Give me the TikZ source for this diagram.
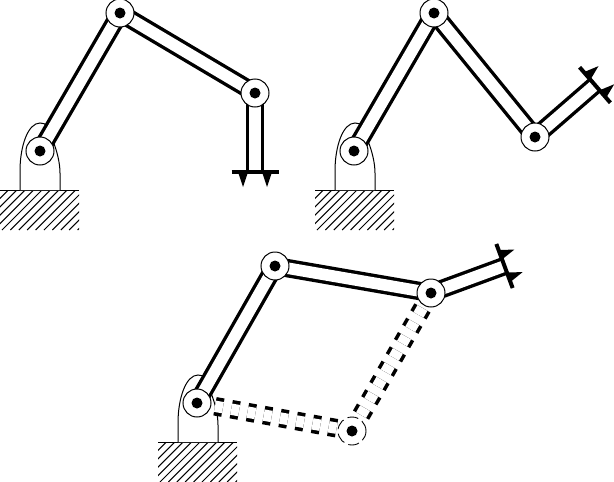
\documentclass[tikz,border=0pt]{standalone}
\usetikzlibrary{backgrounds}
\pgfdeclarelayer{lowest}
\pgfsetlayers{lowest,background,main}
\tikzset{
  x=1pt,y=1pt,
  joint/.style={circle,draw=black,fill=white,line width=1pt,minimum size=28pt,inner sep=0pt},
  ghostjoint/.style={joint,line width=0.9pt,dash pattern=on 11pt off 4.5pt},
  pindot/.style={circle,fill=black,minimum size=11pt,inner sep=0pt},
  endpt/.style={inner sep=0pt,minimum size=0pt},
  link/.style={draw=black,line width=3.4pt,double=white,double distance=11.6pt},
  ghostlink/.style={link,line width=3.6pt,double distance=11.4pt,dash pattern=on 8pt off 8.5pt,dash phase=14.7pt},
  baseline/.style={line width=1pt,draw=black},
  gripper/.pic={
    \draw[line width=4pt] (-23.5,0) -- (23.5,0);
    \fill (-17,0) -- (-7,0) -- (-12,-15) -- cycle;
    \fill (7,0) -- (17,0) -- (12,-15) -- cycle;
  },
  ground/.pic={
    \begin{scope}
      \clip (0,0) rectangle (79,-40);
      \foreach \k in {0,...,15}{
        \draw[line width=1pt] ({-40+\k*8.4},-40) -- ++(40,40);
      }
    \end{scope}
    \draw[line width=1pt] (0,0) -- (79,0);
  },
  mount/.pic={
    \draw[baseline,fill=white] (-20,-39) -- (-20,-20) .. controls (-20,5) and (-12,28) .. (0,28)
       .. controls (6,28) and (10,25) .. (13,10) .. controls (17,0) and (20,-12) .. (20,-22) -- (20,-39);
  }
}
\begin{document}
\begin{tikzpicture}
\useasboundingbox (0,0) rectangle (614,-482);
% upper left arm
\node[joint] (a1) at (40,-151) {};
\node[joint] (a2) at (120,-13) {};
\node[joint] (a3) at (255,-93) {};
\node[endpt] (a4) at (255,-172) {};
% upper right arm
\node[joint] (b1) at (354,-151) {};
\node[joint] (b2) at (434,-13) {};
\node[joint] (b3) at (535,-137) {};
\node[endpt] (b4) at (595,-85) {};
% lower arm
\node[joint] (c1) at (197,-403) {};
\node[joint] (c2) at (275,-266) {};
\node[joint] (c3) at (431,-293) {};
\node[endpt] (c4) at (504.5,-266) {};
\node[ghostjoint] (c5) at (352,-431) {};
\foreach \j in {a1,a2,a3,b1,b2,b3,c1,c2,c3,c5}{
  \node[pindot] (dot\j) at (\j.center) {};
}
\begin{pgfonlayer}{lowest}
  \pic at (0,-190) {ground};
  \pic at (315,-190) {ground};
  \pic at (158,-442) {ground};
  \pic at (40,-151) {mount};
  \pic at (355,-151) {mount};
  \pic at (198,-403) {mount};
\end{pgfonlayer}
\begin{pgfonlayer}{background}
  \draw[ghostlink] (c1.center) -- (c5.center);
  \draw[ghostlink] (c5.center) -- (c3.center);
  \draw[link] (a1.center) -- (a2.center);
  \draw[link] (a2.center) -- (a3.center);
  \draw[link] (a3.center) -- (a4.center);
  \draw[link] (b1.center) -- (b2.center);
  \draw[link] (b2.center) -- (b3.center);
  \draw[link] (b3.center) -- (b4.center);
  \draw[link] (c1.center) -- (c2.center);
  \draw[link] (c2.center) -- (c3.center);
  \draw[link] (c3.center) -- (c4.center);
  \pic[rotate=0] at (a4.center) {gripper};
  \pic[rotate=130.9] at (b4.center) {gripper};
  \pic[rotate=110.3] at (c4.center) {gripper};
\end{pgfonlayer}
\end{tikzpicture}
\end{document}
